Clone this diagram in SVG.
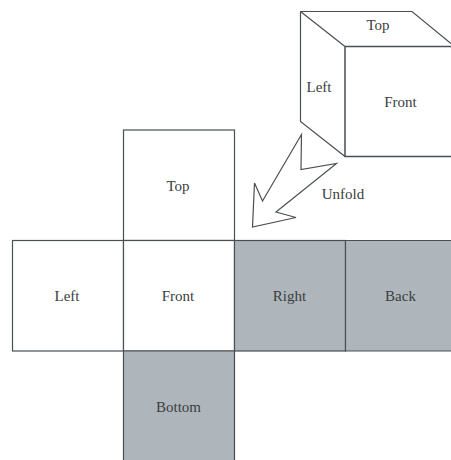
<svg xmlns="http://www.w3.org/2000/svg" width="451" height="460" viewBox="0 0 451 460">
<style>
.f{stroke:#4a4f53;stroke-width:1.2;fill:#fff}
.g{fill:#aeb6bb}
.l{stroke:#4a4f53;stroke-width:1.2;fill:none}
text{font-family:"Liberation Serif","Times New Roman",serif;font-size:15px;fill:#3a3d40;text-anchor:middle}
</style>
<rect width="451" height="460" fill="#fff"/>
<g id="cube">
<path class="l" d="M300.500 11.500H412L451 43.500"/>
<path class="l" d="M300.500 11.500V121.500L345 156.500"/>
<path class="l" d="M300.500 11.500L345 46.500"/>
<path class="l" d="M345 46.500H451M345 46.500V156.500H451" style="stroke-width:1.500"/>
<text x="378" y="30">Top</text>
<text x="319" y="91.500">Left</text>
<text x="400.500" y="106.500">Front</text>
</g>
<g id="unfold-arrow">
<path class="l" d="M301.500 134.500L262.500 201L254.500 183L252.500 227L296 217.500L276 212L336.500 163.500L301 169.500Z"/>
<text x="343" y="199">Unfold</text>
</g>
<g id="net-top"><rect class="f" x="123.500" y="130" width="111" height="110.500"/><text x="178" y="190.500">Top</text></g>
<g id="net-left"><rect class="f" x="12.500" y="240.500" width="111" height="110.500"/><text x="67" y="301">Left</text></g>
<g id="net-front"><rect class="f" x="123.500" y="240.500" width="111" height="110.500"/><text x="178" y="301">Front</text></g>
<g id="net-right"><rect class="f g" x="234.500" y="240.500" width="111" height="110.500"/><text x="289.500" y="301">Right</text></g>
<g id="net-back"><path class="g" d="M345.500 240.500H451V351H345.500Z"/><path class="l" d="M451 240.500H345.500V351H451"/><text x="400.500" y="301">Back</text></g>
<g id="net-bottom"><path class="g" d="M123.500 351H234.500V460H123.500Z"/><path class="l" d="M123.500 460V351H234.500V460"/><text x="178.500" y="411.500">Bottom</text></g>
</svg>
